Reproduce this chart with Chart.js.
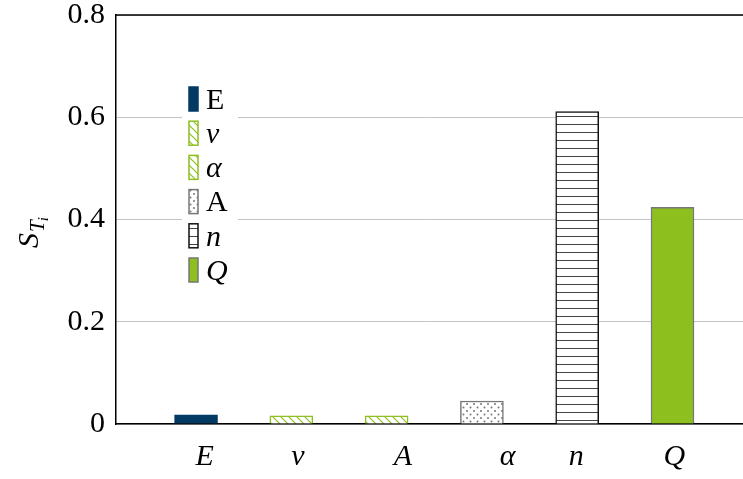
<!DOCTYPE html>
<html><head><meta charset="utf-8">
<script src="https://cdn.jsdelivr.net/npm/chart.js@4"></script>
<style>html,body{margin:0;padding:0;background:#fff;overflow:hidden}#wrap{width:743px;height:479px}</style>
</head><body><div id="wrap"><canvas id="c" width="743" height="479"></canvas></div>
<script>
// ---- data ----
const seriesNames = ['E', 'ν', 'α', 'A', 'n', 'Q'];
const seriesItalic = [false, true, true, false, true, true];
const seriesPos = [0, 1, 2, 3, 4, 5];
const seriesValues = [0.018, 0.016, 0.016, 0.045, 0.611, 0.424];
const xTickLabels = ['E', 'ν', 'A', 'α', 'n', 'Q'];
const xTickPos = [0.09, 1.07, 2.17, 3.27, 3.99, 5.02];
const yTickValues = [0, 0.2, 0.4, 0.6, 0.8];
const yTickLabels = ['0', '0.2', '0.4', '0.6', '0.8'];

const FONT = '"Liberation Serif", "Times New Roman", serif';
const GREEN = '#8dbf1f', NAVY = '#033a64', GRAY = '#777777';

function makePattern(w, h, draw) {
  const c = document.createElement('canvas'); c.width = w; c.height = h;
  const g = c.getContext('2d'); g.fillStyle = '#fff'; g.fillRect(0, 0, w, h); draw(g);
  return document.getElementById('c').getContext('2d').createPattern(c, 'repeat');
}
const hatch = makePattern(8, 8, g => {
  g.strokeStyle = GREEN; g.lineWidth = 1.2;
  g.beginPath(); g.moveTo(-1, -1); g.lineTo(9, 9); g.moveTo(-1, 7); g.lineTo(1, 9); g.moveTo(7, -1); g.lineTo(9, 1); g.stroke();
});
const dots = makePattern(7, 7, g => {
  g.fillStyle = GRAY;
  g.beginPath(); g.arc(1.5, 1.5, 1, 0, Math.PI * 2); g.fill();
  g.beginPath(); g.arc(5, 5, 1, 0, Math.PI * 2); g.fill();
});
const hlines = makePattern(8, 8, g => {
  g.fillStyle = '#444'; g.fillRect(0, 4, 8, 1);
});

const fills = [NAVY, hatch, hatch, dots, hlines, GREEN];
const borders = [NAVY, GREEN, GREEN, GRAY, '#111', GRAY];

const datasets = seriesNames.map((n, i) => ({
  label: n,
  data: [{ x: seriesPos[i], y: seriesValues[i] }],
  backgroundColor: fills[i],
  borderColor: borders[i],
  borderWidth: 1.5,
  barThickness: 43,
  grouped: false
}));

const legendPlugin = {
  id: 'customLegend',
  afterDraw(chart) {
    const ctx = chart.ctx, a = chart.chartArea;
    ctx.save();
    // top border
    ctx.strokeStyle = '#000'; ctx.lineWidth = 1.5;
    ctx.beginPath(); ctx.moveTo(a.left - 0.75, a.top); ctx.lineTo(a.right, a.top); ctx.stroke();
    // legend box
    ctx.fillStyle = '#fff'; ctx.fillRect(182, 84, 56, 204);
    chart.data.datasets.forEach((ds, i) => {
      const y = 99 + 34.2 * i;
      ctx.fillStyle = ds.backgroundColor; ctx.fillRect(189, y - 12, 9, 24);
      ctx.strokeStyle = ds.borderColor; ctx.lineWidth = 1.5; ctx.strokeRect(189, y - 12, 9, 24);
      ctx.fillStyle = '#000';
      ctx.font = (seriesItalic[i] ? 'italic ' : '') + '30px ' + FONT;
      ctx.textAlign = 'left'; ctx.textBaseline = 'middle';
      ctx.fillText(ds.label, 206, y + 2);
    });
    // y title S_{T_i}
    ctx.translate(38, 248); ctx.rotate(-Math.PI / 2);
    ctx.fillStyle = '#000'; ctx.textBaseline = 'alphabetic'; ctx.textAlign = 'left';
    ctx.font = 'italic 30px ' + FONT; ctx.fillText('S', 0, 0);
    let w = ctx.measureText('S').width;
    ctx.font = 'italic 21px ' + FONT; ctx.fillText('T', w + 1, 6);
    w += 1 + ctx.measureText('T').width;
    ctx.font = 'italic 15px ' + FONT; ctx.fillText('i', w - 1, 10);
    ctx.restore();
  }
};

new Chart(document.getElementById('c'), {
  type: 'bar',
  data: { datasets },
  plugins: [legendPlugin],
  options: {
    responsive: false, animation: false,
    layout: { padding: { top: 15, left: 0, right: 0, bottom: 0 } },
    plugins: { legend: { display: false }, tooltip: { enabled: false } },
    scales: {
      x: {
        type: 'linear', min: -0.84, max: 5.74, offset: false,
        grid: { display: false, drawTicks: false },
        border: { display: true, color: '#000', width: 1.5 },
        afterBuildTicks: s => { s.ticks = xTickPos.map(v => ({ value: v })); },
        afterFit: s => { s.height = 55; },
        ticks: {
          autoSkip: false, maxRotation: 0, padding: 15, color: '#000',
          font: { family: FONT, size: 30, style: 'italic', lineHeight: 1.2 },
          callback: (v, i) => xTickLabels[i]
        }
      },
      y: {
        min: 0, max: 0.8,
        grid: { color: '#c4c4c4', lineWidth: 1, drawTicks: false },
        border: { display: true, color: '#000', width: 1.5 },
        afterBuildTicks: s => { s.ticks = yTickValues.map(v => ({ value: v })); },
        afterFit: s => { s.width = 116; s.paddingTop = 0; s.paddingBottom = 0; },
        ticks: {
          padding: 11, color: '#000',
          font: { family: FONT, size: 30, lineHeight: 1 },
          callback: (v, i) => yTickLabels[i]
        }
      }
    }
  }
});
</script></body></html>
